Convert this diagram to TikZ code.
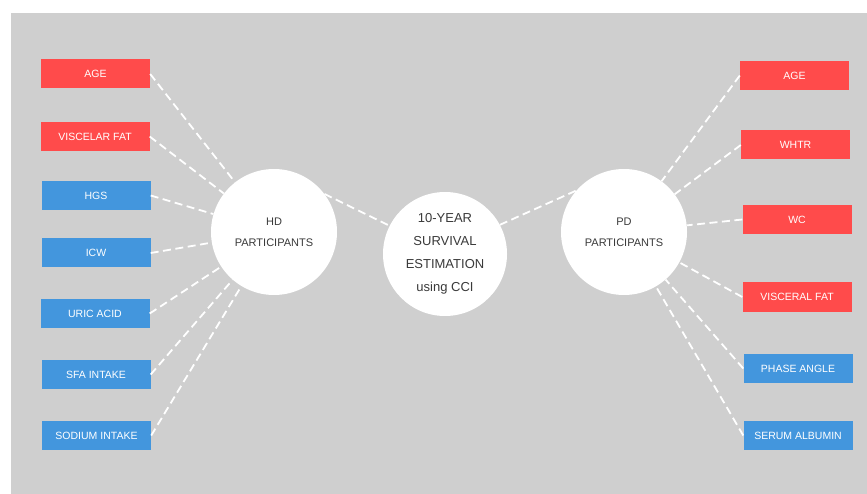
\documentclass[tikz,border=0pt]{standalone}
\usepackage{fontspec}
\setmainfont{Liberation Sans}
\usepackage{tikz}
\definecolor{bggrey}{HTML}{CFCFCF}
\definecolor{riskred}{HTML}{FF4B4B}
\definecolor{riskblue}{HTML}{4396DD}
\definecolor{ink}{HTML}{3A3A3A}

\begin{document}
\begin{tikzpicture}[x=1pt,y=-1pt,
        factor/.style={minimum width=109pt, minimum height=29pt, inner sep=0pt, text=white, font=\fontsize{10.5}{12}\selectfont},
        redfactor/.style={factor, fill=riskred},
        bluefactor/.style={factor, fill=riskblue},
        group/.style={circle, fill=white, minimum size=126pt, inner sep=0pt, text=ink, align=center, font=\fontsize{11}{21}\selectfont},
        link/.style={white, line width=1.8pt, dash pattern=on 8pt off 4.5pt}]
        \useasboundingbox (0,0) rectangle (867,494);
        \fill[white] (0,0) rectangle (867,494);
        \fill[bggrey] (11,13) rectangle (867,494);
        %%%
        \node[group] (hd) at (274,232) {HD\\PARTICIPANTS};
        \node[group, minimum size=124pt, font=\fontsize{13}{23}\selectfont] (ctr) at (445,254) {10-YEAR\\SURVIVAL\\ESTIMATION\\using CCI};
        \node[group] (pd) at (624,232) {PD\\PARTICIPANTS};
        %%%
        \node[redfactor] (hdage) at (95.5,74) {AGE};
        \node[redfactor] (hdfat) at (95,136.5) {VISCELAR FAT};
        \node[bluefactor] (hgs) at (96,195.5) {HGS};
        \node[bluefactor] (icw) at (96,253) {ICW};
        \node[bluefactor] (uric) at (95,313.5) {URIC ACID};
        \node[bluefactor] (sfa) at (96,374.5) {SFA INTAKE};
        \node[bluefactor] (sodium) at (96.5,435.5) {SODIUM INTAKE};
        %%%
        \node[redfactor] (pdage) at (794.5,75.5) {AGE};
        \node[redfactor] (whtr) at (795.5,145) {WHTR};
        \node[redfactor] (wc) at (797,219.5) {WC};
        \node[redfactor] (pdfat) at (797,297) {VISCERAL FAT};
        \node[bluefactor] (phase) at (798,368.5) {PHASE ANGLE};
        \node[bluefactor] (albumin) at (798,435.5) {SERUM ALBUMIN};
        %%%
        \foreach \f in {hdage,hdfat,hgs,icw,uric,sfa,sodium}
            \draw[link] (\f.east) -- (hd);
        \foreach \f in {pdage,whtr,wc,pdfat,phase,albumin}
            \draw[link] (\f.west) -- (pd);
        \draw[link] (hd.37) -- (ctr.153);
        \draw[link] (ctr.28) -- (pd.139);
\end{tikzpicture}
\end{document}
